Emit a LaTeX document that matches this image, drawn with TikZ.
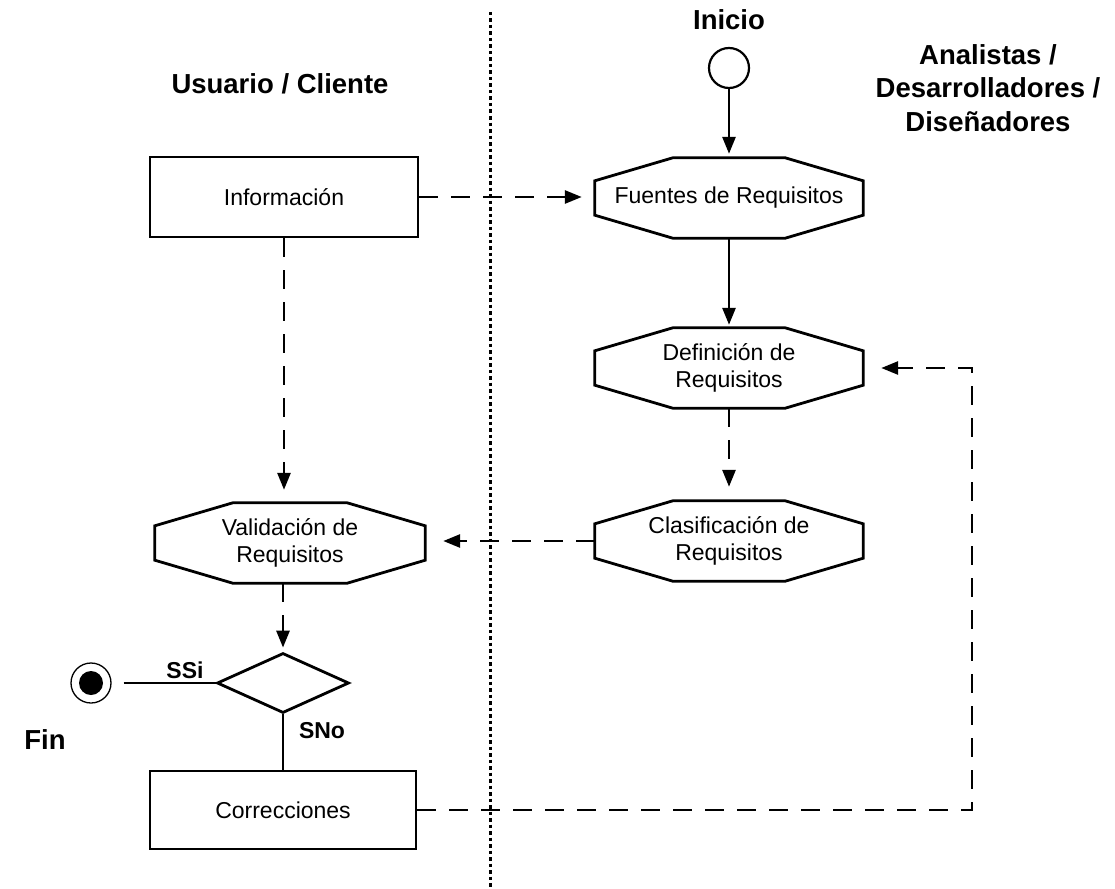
\documentclass[tikz,border=0pt]{standalone}
\usepackage{fontspec}
\setmainfont{Liberation Sans}
\usetikzlibrary{shapes.geometric,arrows.meta,calc}
% octagonal activity outline drawn around a rectangular node
\newcommand\octoframe[1]{%
  \draw[shapeline]
    ($(#1.north west)+(78pt,0pt)$) -- ($(#1.north east)+(-78pt,0pt)$)
    -- ($(#1.north east)+(0pt,-23pt)$) -- ($(#1.south east)+(0pt,23pt)$)
    -- ($(#1.south east)+(-78pt,0pt)$) -- ($(#1.south west)+(78pt,0pt)$)
    -- ($(#1.south west)+(0pt,23pt)$) -- ($(#1.north west)+(0pt,-23pt)$) -- cycle;}
\begin{document}
\begin{tikzpicture}[x=1pt,y=-1pt,
  every node/.style={font=\fontsize{23}{26.5}\selectfont},
  shapeline/.style={line width=2.8pt,line join=miter},
  box/.style={draw,shapeline,rectangle,minimum width=268pt,minimum height=80pt,inner sep=0pt},
  octo/.style={rectangle,minimum width=268pt,minimum height=80pt,inner sep=0pt,align=center},
  title/.style={font=\fontsize{27.5}{33.5}\selectfont\bfseries,align=center},
  lbl/.style={font=\fontsize{23}{26}\selectfont\bfseries},
  flow/.style={line width=2.8pt,-{Triangle[length=17pt,width=13pt]}},
  dflow/.style={flow,dash pattern=on 19pt off 13pt},
  plain/.style={line width=2.8pt},
  lane/.style={line width=3pt,dash pattern=on 3.5pt off 3pt},
]
\useasboundingbox (0,0) rectangle (1115,888);

% swimlane divider
\coordinate (laneTop) at (490,12);
\coordinate (laneBot) at (490,888);
\draw[lane] (laneTop) -- (laneBot);

% lane titles
\node[title] (tUser) at (280,84) {Usuario / Cliente};
\node[title] (tDev) at (988,88) {Analistas /\\Desarrolladores /\\Diseñadores};
\node[title,anchor=base] (tIni) at (729,30) {Inicio};
\node[title,anchor=base] (tFin) at (45,749) {Fin};

% start and end states
\node[draw,circle,line width=2.2pt,minimum size=40pt,inner sep=0pt] (ini) at (729,68) {};
\node[draw,circle,line width=1.3pt,minimum size=40pt,inner sep=0pt] (fin) at (91,683) {};
\node[circle,fill,minimum size=24pt,inner sep=0pt] (finDot) at (fin) {};

% activities
\node[box] (inf) at (284,197) {Información};
\node[octo] (fue) at (729,198) {Fuentes de Requisitos};
\node[octo] (def) at (729,368) {Definición de\\Requisitos};
\node[octo] (cla) at (729,541) {Clasificación de\\Requisitos};
\node[octo,minimum width=270pt] (val) at (290,543) {Validación de\\Requisitos};
\octoframe{fue}
\octoframe{def}
\octoframe{cla}
\octoframe{val}
\node[draw,diamond,shapeline,minimum width=132pt,minimum height=60pt,inner sep=0pt] (dec) at (283,683) {};
\node[box,minimum width=266pt,minimum height=78pt] (corr) at (283,810) {Correcciones};

% branch labels
\node[lbl,anchor=base] (lSi) at (185,678) {SSi};
\node[lbl,anchor=base] (lNo) at (322,738) {SNo};

% flows
\draw[flow,shorten >=4pt] (ini) -- (fue);
\draw[dflow,shorten >=13pt] (inf.east) -- (inf.east -| fue.west);
\draw[dflow,shorten >=13pt] (inf.south) -- (val.north -| inf.south);
\draw[flow,shorten >=3pt] (fue.south) -- (def.north);
\draw[dflow,shorten >=14pt] (def.south) -- (cla.north);
\draw[dflow,shorten >=18pt] (cla.west) -- (cla.west -| val.east);
\draw[dflow,shorten >=4pt] (val.south -| dec.north) -- (dec.north);
\draw[plain,shorten <=12pt] (fin.east) -- (dec.west);
\draw[plain] (dec.south) -- (corr.north);
\coordinate (loop) at (972,368);
\draw[dflow,shorten >=18pt] (corr.east) -| (loop) -- (def.east);
\end{tikzpicture}
\end{document}
